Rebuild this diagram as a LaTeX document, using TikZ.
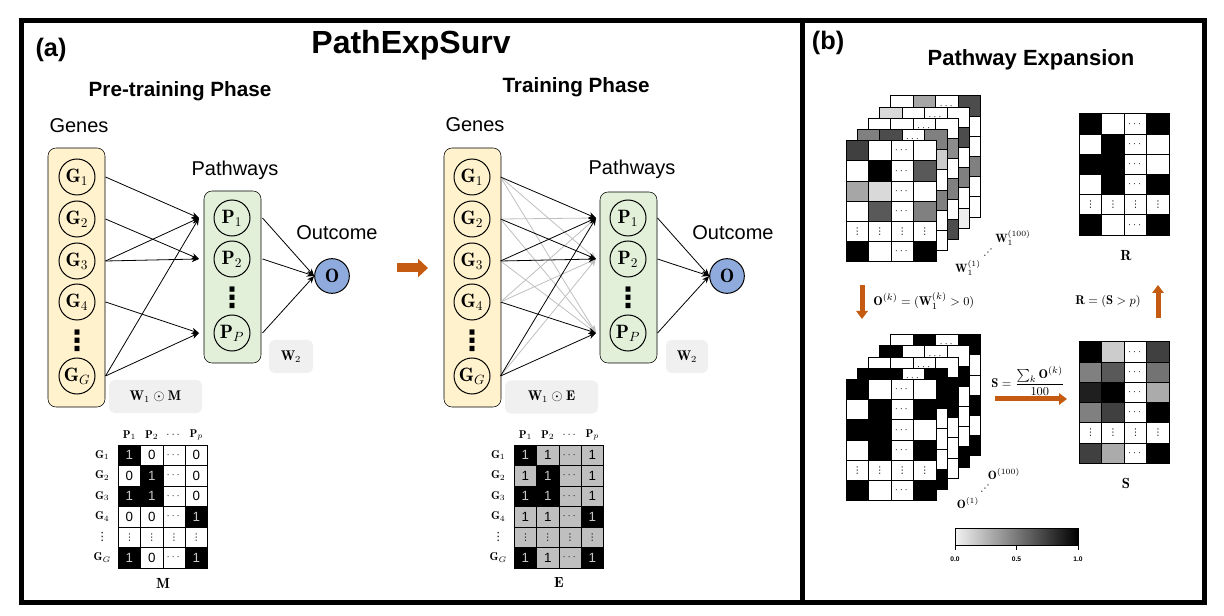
\documentclass[tikz,border=0pt]{standalone}
\usepackage{amssymb, mathtools, amsmath}
\usepackage{fontspec}
\newfontfamily\arialfont{Liberation Sans}
\newfontfamily\dejafont{DejaVu Sans}
\usetikzlibrary{arrows.meta}

\definecolor{genefill}{RGB}{255,242,204}
\definecolor{pathfill}{RGB}{226,240,217}
\definecolor{outfill}{RGB}{143,170,220}
\definecolor{wfill}{RGB}{240,240,240}
\definecolor{expgray}{RGB}{191,191,191}
\definecolor{arrorange}{RGB}{197,90,17}

\tikzset{
  genebox/.style={fill=genefill, rounded corners=6pt},
  pathbox/.style={fill=pathfill, rounded corners=6pt},
  unit/.style={circle, draw, line width=0.75pt, minimum size=27pt, inner sep=0pt, font=\fontsize{14.5}{16}\selectfont},
  outunit/.style={unit, fill=outfill, minimum size=26pt},
  dotstack/.style={inner sep=0pt, font=\dejafont\bfseries\fontsize{21}{22}\selectfont},
  wbox/.style={fill=wfill, rounded corners=4pt, minimum height=24.75pt, inner sep=0pt, font=\fontsize{10.5}{12}\selectfont},
  netarrow/.style={-{Stealth[length=5.5pt,width=4.5pt]}, line width=0.6pt},
  weakarrow/.style={netarrow, color=black!25},
  bigarrow/.style={-{Triangle[length=6pt,width=8.5pt]}, line width=3.75pt, color=arrorange},
  paneltext/.style={inner sep=0pt, font=\arialfont\bfseries\fontsize{19}{22}\selectfont},
  titletext/.style={inner sep=0pt, font=\arialfont\bfseries\fontsize{24}{28}\selectfont},
  headtext/.style={inner sep=0pt, font=\arialfont\bfseries\fontsize{15.5}{18}\selectfont},
  layertext/.style={inner sep=0pt, font=\arialfont\fontsize{15}{18}\selectfont},
  matlab/.style={inner sep=0pt, font=\fontsize{8.5}{10}\selectfont},
  matname/.style={inner sep=0pt, font=\fontsize{11}{13}\selectfont},
  numsty/.style={inner sep=0pt, font=\arialfont\fontsize{10}{12}\selectfont},
  dotsty/.style={inner sep=0pt, font=\fontsize{7}{8}\selectfont},
  stacklab/.style={inner sep=0pt, font=\fontsize{9}{11}\selectfont},
  formtext/.style={inner sep=0pt, font=\fontsize{9.5}{11}\selectfont},
  ticklab/.style={inner sep=0pt, font=\arialfont\bfseries\fontsize{5}{6}\selectfont},
  cellon/.style={fill=black, text=black!22},
  celloff/.style={fill=white, text=black},
  cellmid/.style={fill=expgray, text=black},
}

\newcommand{\vdotsglyph}{\mbox{\dejafont ⋮}}
\newcommand{\celldots}{{\fontsize{7}{8}\selectfont$\cdots$}}
\newcommand{\cellvdots}{{\fontsize{7}{8}\selectfont\vdotsglyph}}

% mask matrix: #1 left, #2 top, #3 rows of cellstyle/entry
\newcommand{\nummat}[3]{%
  \foreach \rowcells [count=\ri] in {#3} {
    \foreach \cellst/\cellval [count=\ci] in \rowcells {
      \filldraw[\cellst, draw=black, line width=0.6pt] ({#1+(\ci-1)*22.3},{#2+(\ri-1)*20.5}) rectangle ++(22.3,20.5);
      \node[numsty, \cellst] at ({#1+(\ci-0.5)*22.3},{#2+(\ri-0.5)*20.5}) {\cellval};
    }
  }
  \foreach \lab [count=\ri] in {\mathbf{G}_1,\mathbf{G}_2,\mathbf{G}_3,\mathbf{G}_4,\vdotsglyph,\mathbf{G}_G}
    \node[matlab] at ({#1-16},{#2+(\ri-0.5)*20.5}) {$\lab$};
  \foreach \lab [count=\ci] in {\mathbf{P}_1,\mathbf{P}_2,\cdots,\mathbf{P}_p}
    \node[matlab] at ({#1+(\ci-0.5)*22.3},{#2-10}) {$\lab$};
}

% weight matrix: #1 left, #2 top, #3 rows of four fills, #4 = 1 front layer / 0 back layer
\newcommand{\heatmat}[4]{%
  \foreach \rowfills [count=\ri] in {#3} {
    \foreach \cellfill [count=\ci] in \rowfills {
      \filldraw[fill=\cellfill, draw=black, line width=0.75pt] ({#1+(\ci-1)*22.5},{#2+(\ri-1)*20.2}) rectangle ++(22.5,20.2);
    }
  }
  \ifnum#4=1
    \foreach \ri in {1,2,3,4,6} \node[dotsty] at ({#1+2.5*22.5},{#2+(\ri-0.5)*20.2}) {$\cdots$};
    \foreach \ci in {1,...,4} \node[dotsty] at ({#1+(\ci-0.5)*22.5},{#2+4.5*20.2}) {\vdotsglyph};
  \else
    \node[dotsty] at ({#1+2.5*22.5},{#2+0.5*20.2}) {$\cdots$};
  \fi
}

\begin{document}
\begin{tikzpicture}[x=0.75pt,y=0.75pt,yscale=-1,xscale=1]
\useasboundingbox (0,0) rectangle (1224,616);

%Shape: Panel frames
\draw[line width=3.75pt] (21,21) rectangle (802,602);
\draw[line width=3.75pt] (802,21) rectangle (1204,602);

% Text Node
\node[paneltext] (labA) at (51,50) {(a)};
% Text Node
\node[titletext] (title) at (411,45) {PathExpSurv};
% Text Node
\node[headtext] (preHead) at (180,91) {Pre-training Phase};
% Text Node
\node[headtext] (trHead) at (576,87) {Training Phase};

%%%% Pre-training network
%Shape: Rounded Rect
\draw[genebox] (48,148) rectangle (105,407);
\draw[pathbox] (204,191) rectangle (261,363);
% Text Node
\node[layertext] (preGenesLab) at (79,126) {Genes};
\node[layertext] (prePathLab) at (235,170) {Pathways};
\node[layertext] (preOutLab) at (337,233) {Outcome};

%Shape: Circle
\node[unit] (preG1) at (77,177) {$\mathbf{G}_1$};
\node[unit] (preG2) at (77,219) {$\mathbf{G}_2$};
\node[unit] (preG3) at (77,261) {$\mathbf{G}_3$};
\node[unit] (preG4) at (77,302) {$\mathbf{G}_4$};
\node[dotstack] (preGdots) at (77,341) {⋮};
\node[unit] (preGG) at (77,376) {$\mathbf{G}_G$};
\node[unit] (preP1) at (232,218) {$\mathbf{P}_1$};
\node[unit] (preP2) at (232,259) {$\mathbf{P}_2$};
\node[dotstack] (prePdots) at (232,298) {⋮};
\node[unit] (prePP) at (232,333) {$\mathbf{P}_P$};
\node[outunit] (preO) at (332,276) {$\mathbf{O}$};

\coordinate (preIn1) at (199,218);
\coordinate (preIn2) at (199,259);
\coordinate (preInP) at (199,333);

%Straight Lines
\draw[netarrow] ([xshift=7.5pt]preG1.east) -- (preIn1);
\draw[netarrow] ([xshift=7.5pt]preG2.east) -- (preIn2);
\draw[netarrow] ([xshift=7.5pt]preG3.east) -- (preIn1);
\draw[netarrow] ([xshift=7.5pt]preG3.east) -- (preIn2);
\draw[netarrow] ([xshift=7.5pt]preG4.east) -- (preInP);
\draw[netarrow] ([xshift=7.5pt]preGG.east) -- (preIn1);
\draw[netarrow] ([xshift=7.5pt]preGG.east) -- (preInP);
\draw[netarrow] ([xshift=9pt]preP1.east) -- (preO.west);
\draw[netarrow] ([xshift=9pt]preP2.east) -- (preO.west);
\draw[netarrow] ([xshift=9pt]prePP.east) -- (preO.west);

%Shape: Rectangle
\node[wbox, minimum width=33pt] (preW2) at (291,356.5) {$\mathbf{W}_2$};
\node[wbox, minimum width=69.75pt] (preW1M) at (155.5,396.5) {$\mathbf{W}_1\odot\mathbf{M}$};

%%%% Phase arrow
\draw[bigarrow, line width=6.75pt, -{Triangle[length=7.5pt,width=13.5pt]}] (397,268) -- (428,268);

%%%% Training network
%Shape: Rounded Rect
\draw[genebox] (444,148) rectangle (501,407);
\draw[pathbox] (600,192) rectangle (657,363);
% Text Node
\node[layertext] (trGenesLab) at (475,125) {Genes};
\node[layertext] (trPathLab) at (632,169) {Pathways};
\node[layertext] (trOutLab) at (733,233) {Outcome};

%Shape: Circle
\node[unit] (trG1) at (472,177) {$\mathbf{G}_1$};
\node[unit] (trG2) at (472,219) {$\mathbf{G}_2$};
\node[unit] (trG3) at (472,261) {$\mathbf{G}_3$};
\node[unit] (trG4) at (472,302) {$\mathbf{G}_4$};
\node[dotstack] (trGdots) at (472,341) {⋮};
\node[unit] (trGG) at (472,376) {$\mathbf{G}_G$};
\node[unit] (trP1) at (628,218) {$\mathbf{P}_1$};
\node[unit] (trP2) at (628,259) {$\mathbf{P}_2$};
\node[dotstack] (trPdots) at (628,298) {⋮};
\node[unit] (trPP) at (628,333) {$\mathbf{P}_P$};
\node[outunit] (trO) at (727,276) {$\mathbf{O}$};

\coordinate (trIn1) at (596,218);
\coordinate (trIn2) at (596,259);
\coordinate (trInP) at (596,333);

%Straight Lines (expanded links)
\draw[weakarrow] ([xshift=7.5pt]trG1.east) -- (trIn2);
\draw[weakarrow] ([xshift=7.5pt]trG1.east) -- (trInP);
\draw[weakarrow] ([xshift=7.5pt]trG2.east) -- (trIn1);
\draw[weakarrow] ([xshift=7.5pt]trG2.east) -- (trInP);
\draw[weakarrow] ([xshift=7.5pt]trG3.east) -- (trInP);
\draw[weakarrow] ([xshift=7.5pt]trG4.east) -- (trIn1);
\draw[weakarrow] ([xshift=7.5pt]trG4.east) -- (trIn2);
\draw[weakarrow] ([xshift=7.5pt]trGG.east) -- (trIn2);
%Straight Lines (prior links)
\draw[netarrow] ([xshift=7.5pt]trG1.east) -- (trIn1);
\draw[netarrow] ([xshift=7.5pt]trG2.east) -- (trIn2);
\draw[netarrow] ([xshift=7.5pt]trG3.east) -- (trIn1);
\draw[netarrow] ([xshift=7.5pt]trG3.east) -- (trIn2);
\draw[netarrow] ([xshift=7.5pt]trG4.east) -- (trInP);
\draw[netarrow] ([xshift=7.5pt]trGG.east) -- (trIn1);
\draw[netarrow] ([xshift=7.5pt]trGG.east) -- (trInP);
\draw[netarrow] ([xshift=8.25pt]trP1.east) -- (trO.west);
\draw[netarrow] ([xshift=8.25pt]trP2.east) -- (trO.west);
\draw[netarrow] ([xshift=8.25pt]trPP.east) -- (trO.west);

%Shape: Rectangle
\node[wbox, minimum width=31.5pt] (trW2) at (687,356.5) {$\mathbf{W}_2$};
\node[wbox, minimum width=69.75pt] (trW1E) at (551.5,397) {$\mathbf{W}_1\odot\mathbf{E}$};

%%%% Mask matrices
\nummat{118.3}{445}{{cellon/1,celloff/0,celloff/\celldots,celloff/0},{celloff/0,cellon/1,celloff/\celldots,celloff/0},{cellon/1,cellon/1,celloff/\celldots,celloff/0},{celloff/0,celloff/0,celloff/\celldots,cellon/1},{celloff/\cellvdots,celloff/\cellvdots,celloff/\cellvdots,celloff/\cellvdots},{cellon/1,celloff/0,celloff/\celldots,cellon/1}}
\node[matname] (matM) at (163,583) {$\mathbf{M}$};

\nummat{514.3}{445}{{cellon/1,cellmid/1,cellmid/\celldots,cellmid/1},{cellmid/1,cellon/1,cellmid/\celldots,cellmid/1},{cellon/1,cellon/1,cellmid/\celldots,cellmid/1},{cellmid/1,cellmid/1,cellmid/\celldots,cellon/1},{cellmid/\cellvdots,cellmid/\cellvdots,cellmid/\cellvdots,cellmid/\cellvdots},{cellon/1,cellmid/1,cellmid/\celldots,cellon/1}}
\node[matname] (matE) at (559,583) {$\mathbf{E}$};

%%%% Panel (b)
% Text Node
\node[paneltext] (labB) at (828,43) {(b)};
% Text Node
\node[headtext, font=\arialfont\bfseries\fontsize{16.5}{19}\selectfont] (expHead) at (1031,60) {Pathway Expansion};

% stack of trained weights
\heatmat{890.8}{95.9}{{white,black!35,white,black!70},{white,white,white,white},{white,white,white,white},{white,white,white,black!50},{white,white,white,white},{white,white,white,white}}{0}
\heatmat{879.6}{107.1}{{black!15,white,white,white},{white,white,white,black!70},{white,white,white,white},{white,white,white,black!50},{white,white,white,white},{white,white,white,black!7}}{0}
\heatmat{868.4}{118.3}{{white,white,white,white},{white,white,white,black!45},{white,white,white,white},{white,white,white,black!50},{white,white,white,white},{white,white,white,black!70}}{0}
\heatmat{857.2}{129.5}{{black!50,black!70,white,black!50},{white,white,white,black!20},{white,white,white,white},{white,white,white,black!50},{white,white,white,white},{white,white,white,white}}{0}
\heatmat{846}{140.7}{{black!75,white,white,white},{white,black,white,black!65},{black!35,black!15,white,white},{white,black!65,white,black!50},{white,white,white,white},{black,white,white,black}}{1}
% Text Node
\node[stacklab] (wLast) at (1013,238) {$\mathbf{W}_1^{(100)}$};
\node[stacklab] (wDots) at (988,253) {\dejafont\fontsize{7}{8}\selectfont ⋰};
\node[stacklab] (wFirst) at (968,268) {$\mathbf{W}_1^{(1)}$};

% stack of binarised weights
\heatmat{890.8}{334.7}{{white,black,white,black},{white,white,white,white},{white,white,white,white},{white,white,white,black},{white,white,white,white},{white,white,white,black}}{0}
\heatmat{879.6}{345.9}{{black,white,white,white},{white,white,white,black},{white,white,white,white},{white,white,white,white},{white,white,white,white},{white,white,white,black}}{0}
\heatmat{868.4}{357.1}{{white,white,white,white},{white,white,white,black},{white,white,white,black},{white,white,white,white},{white,white,white,white},{white,white,white,white}}{0}
\heatmat{857.2}{368.3}{{black,black,white,black},{white,white,white,black},{white,white,white,white},{white,white,white,white},{white,white,white,white},{white,white,white,black}}{0}
\heatmat{846}{379.5}{{black,white,white,white},{white,black,white,black},{black,black,white,white},{white,black,white,black},{white,white,white,white},{black,white,white,black}}{1}
% Text Node
\node[stacklab] (oLast) at (1004,474) {$\mathbf{O}^{(100)}$};
\node[stacklab] (oDots) at (985,489) {\dejafont\fontsize{7}{8}\selectfont ⋰};
\node[stacklab] (oFirst) at (968,503) {$\mathbf{O}^{(1)}$};

% result matrices
\heatmat{1079.3}{114}{{black,white,white,black},{white,black,white,white},{black,black,white,white},{white,black,white,black},{white,white,white,white},{black,white,white,black}}{1}
\node[matname] (matR) at (1126,256) {$\mathbf{R}$};
\heatmat{1079.3}{342}{{black,black!20,white,black!75},{black!50,black!65,white,black!55},{black!88,black,white,black!33},{black!50,black!75,white,black},{white,white,white,white},{black!75,black!33,white,black}}{1}
\node[matname] (matS) at (1126,483) {$\mathbf{S}$};

% Text Node
\node[formtext, anchor=west] (ruleO) at (873,301) {$\mathbf{O}^{(k)} = (\mathbf{W}_1^{(k)} > 0)$};
\node[formtext] (ruleR) at (1108,302) {$\mathbf{R} = (\mathbf{S} > p)$};
\node[formtext] (ruleS) at (1028,381) {$\mathbf{S} = \dfrac{\sum_k \mathbf{O}^{(k)}}{100}$};

%Straight Lines (orange arrows)
\draw[bigarrow] (862,285) -- (862,319);
\draw[bigarrow] (1158,318) -- (1158,285);
\draw[bigarrow] (995,399) -- (1067,399);

%Shape: Colour bar
\shade[left color=black!5, right color=black] (955,528) rectangle (1078,545);
\draw[line width=0.75pt] (955,528) rectangle (1078,545);
\draw[line width=0.75pt] (955,545) -- (955,550);
\draw[line width=0.75pt] (1016.5,545) -- (1016.5,550);
\draw[line width=0.75pt] (1078,545) -- (1078,550);
% Text Node
\node[ticklab] (tick0) at (955,559) {0.0};
\node[ticklab] (tick5) at (1016.5,559) {0.5};
\node[ticklab] (tick1) at (1078,559) {1.0};

\end{tikzpicture}
\end{document}
